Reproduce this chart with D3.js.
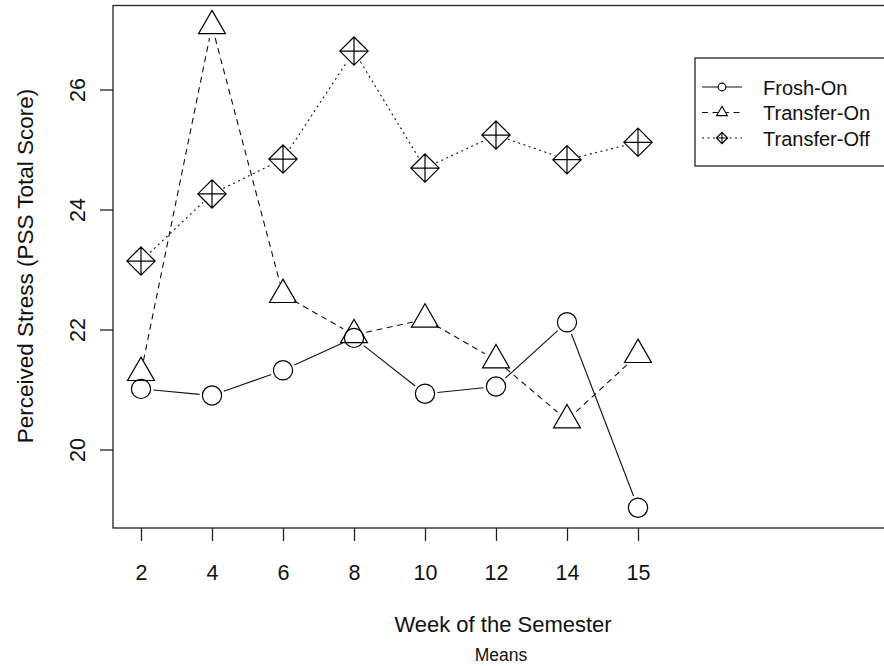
<!DOCTYPE html>
<html>
<head>
<meta charset="utf-8">
<script src="https://cdn.jsdelivr.net/npm/d3@7"></script>
<style>
  body { margin: 0; background: #fff; }
  text { font-family: Arial, "Liberation Sans", sans-serif; fill: #111; }
</style>
</head>
<body>
<svg id="chart" width="884" height="666"></svg>
<script>
// values (group means)
var weeks = ['2', '4', '6', '8', '10', '12', '14', '15'];
var froshOn = [21.01, 20.90, 21.32, 21.86, 20.93, 21.05, 22.12, 19.03];
var transferOn = [21.28, 27.06, 22.58, 21.91, 22.17, 21.49, 20.49, 21.58];
var transferOff = [23.14, 24.26, 24.84, 26.64, 24.69, 25.24, 24.83, 25.12];
var yTicks = [20, 22, 24, 26];
var seriesNames = ['Frosh-On', 'Transfer-On', 'Transfer-Off'];

var series = [
  { name: seriesNames[0], values: froshOn, dash: null, shape: 'circle' },
  { name: seriesNames[1], values: transferOn, dash: '6,4.5', shape: 'triangle' },
  { name: seriesNames[2], values: transferOff, dash: '2,3.5', shape: 'diamond' }
];

var margin = { left: 113, top: 5.5 };
var plotW = 780, plotH = 522.5;

var svg = d3.select('#chart');
var g = svg.append('g').attr('transform', 'translate(' + margin.left + ',' + margin.top + ')');

// x is the level index (1..8), extra room on the right for the legend
var x = d3.scaleLinear().domain([1, 8]).range([28, 525]);
var y = d3.scaleLinear().domain([20, 26]).range([444, 84]);

// markers, sized like R's pch 1, 2, 9
function markerPath(shape, R) {
  var p = d3.path();
  if (shape === 'triangle') {
    var r = 1.5551 * R, hw = 1.3468 * R;
    p.moveTo(0, -r);
    p.lineTo(hw, r / 2);
    p.lineTo(-hw, r / 2);
    p.closePath();
  } else if (shape === 'diamond') {
    var d = Math.SQRT2 * R;
    p.moveTo(0, -d); p.lineTo(d, 0); p.lineTo(0, d); p.lineTo(-d, 0); p.closePath();
    p.moveTo(-d, 0); p.lineTo(d, 0);
    p.moveTo(0, -d); p.lineTo(0, d);
  } else {
    p.moveTo(0.96 * R, 0);
    p.arc(0, 0, 0.96 * R, 0, 2 * Math.PI);
  }
  return p.toString();
}

// type = "b": segments stop short of the points
var gap = 12.5;
series.forEach(function(s) {
  var segs = [];
  for (var i = 0; i < s.values.length - 1; i++) {
    var x0 = x(i + 1), y0 = y(s.values[i]);
    var x1 = x(i + 2), y1 = y(s.values[i + 1]);
    var len = Math.hypot(x1 - x0, y1 - y0);
    if (len <= 2 * gap) continue;
    var ux = (x1 - x0) / len, uy = (y1 - y0) / len;
    segs.push([x0 + ux * gap, y0 + uy * gap, x1 - ux * gap, y1 - uy * gap]);
  }
  g.selectAll(null)
    .data(segs)
    .enter().append('line')
    .attr('x1', function(d) { return d[0]; })
    .attr('y1', function(d) { return d[1]; })
    .attr('x2', function(d) { return d[2]; })
    .attr('y2', function(d) { return d[3]; })
    .attr('stroke', '#111')
    .attr('stroke-width', 1.1)
    .attr('stroke-dasharray', s.dash);
});

series.forEach(function(s) {
  g.selectAll(null)
    .data(s.values)
    .enter().append('path')
    .attr('transform', function(d, i) { return 'translate(' + x(i + 1) + ',' + y(d) + ')'; })
    .attr('d', markerPath(s.shape, 10))
    .attr('fill', 'none')
    .attr('stroke', '#000')
    .attr('stroke-width', 1.2);
});

// box
g.append('rect')
  .attr('width', plotW).attr('height', plotH)
  .attr('fill', 'none').attr('stroke', '#222').attr('stroke-width', 1.3);

// x axis
var xAxis = d3.axisBottom(x)
  .tickValues(d3.range(1, weeks.length + 1))
  .tickFormat(function(d) { return weeks[d - 1]; })
  .tickSizeInner(13).tickSizeOuter(0);
var xa = g.append('g').attr('transform', 'translate(0,' + plotH + ')').call(xAxis);
xa.select('.domain').remove();
xa.selectAll('line').attr('stroke', '#222').attr('stroke-width', 1.3);
xa.selectAll('text').attr('font-size', 21.5).attr('dy', null).attr('fill', '#111')
  .attr('y', 52);

// y axis
var yAxis = d3.axisLeft(y).tickValues(yTicks).tickFormat(d3.format('d'))
  .tickSizeInner(13).tickSizeOuter(0);
var ya = g.append('g').call(yAxis);
ya.select('.domain').remove();
ya.selectAll('line').attr('stroke', '#222').attr('stroke-width', 1.3);
ya.selectAll('text')
  .attr('font-size', 21.5).attr('fill', '#111')
  .attr('x', null).attr('dy', null)
  .attr('text-anchor', 'middle')
  .attr('transform', 'translate(-28,0) rotate(-90)');

// axis titles
svg.append('text')
  .attr('x', 503).attr('y', 631.5)
  .attr('text-anchor', 'middle').attr('font-size', 22)
  .text('Week of the Semester');
svg.append('text')
  .attr('x', 501).attr('y', 661)
  .attr('text-anchor', 'middle').attr('font-size', 17.5)
  .text('Means');
svg.append('text')
  .attr('transform', 'translate(33,266) rotate(-90)')
  .attr('text-anchor', 'middle').attr('font-size', 22.5)
  .text('Perceived Stress (PSS Total Score)');

// legend
var legend = svg.append('g').attr('transform', 'translate(695,58)');
legend.append('rect')
  .attr('width', 220).attr('height', 108)
  .attr('fill', '#fff').attr('stroke', '#222').attr('stroke-width', 1.3);
var rows = legend.selectAll('.row')
  .data(series)
  .enter().append('g')
  .attr('class', 'row')
  .attr('transform', function(d, i) { return 'translate(0,' + (29 + i * 25.5) + ')'; });
rows.append('line')
  .attr('x1', 7).attr('x2', 47)
  .attr('stroke', '#111').attr('stroke-width', 1.1)
  .attr('stroke-dasharray', function(d) { return d.dash; });
rows.append('path')
  .attr('transform', 'translate(27,0)')
  .attr('d', function(d) { return markerPath(d.shape, 4); })
  .attr('fill', '#fff').attr('stroke', '#000').attr('stroke-width', 1.1);
rows.append('text')
  .attr('x', 68).attr('y', 7.5)
  .attr('font-size', 20)
  .text(function(d) { return d.name; });
</script>
</body>
</html>
